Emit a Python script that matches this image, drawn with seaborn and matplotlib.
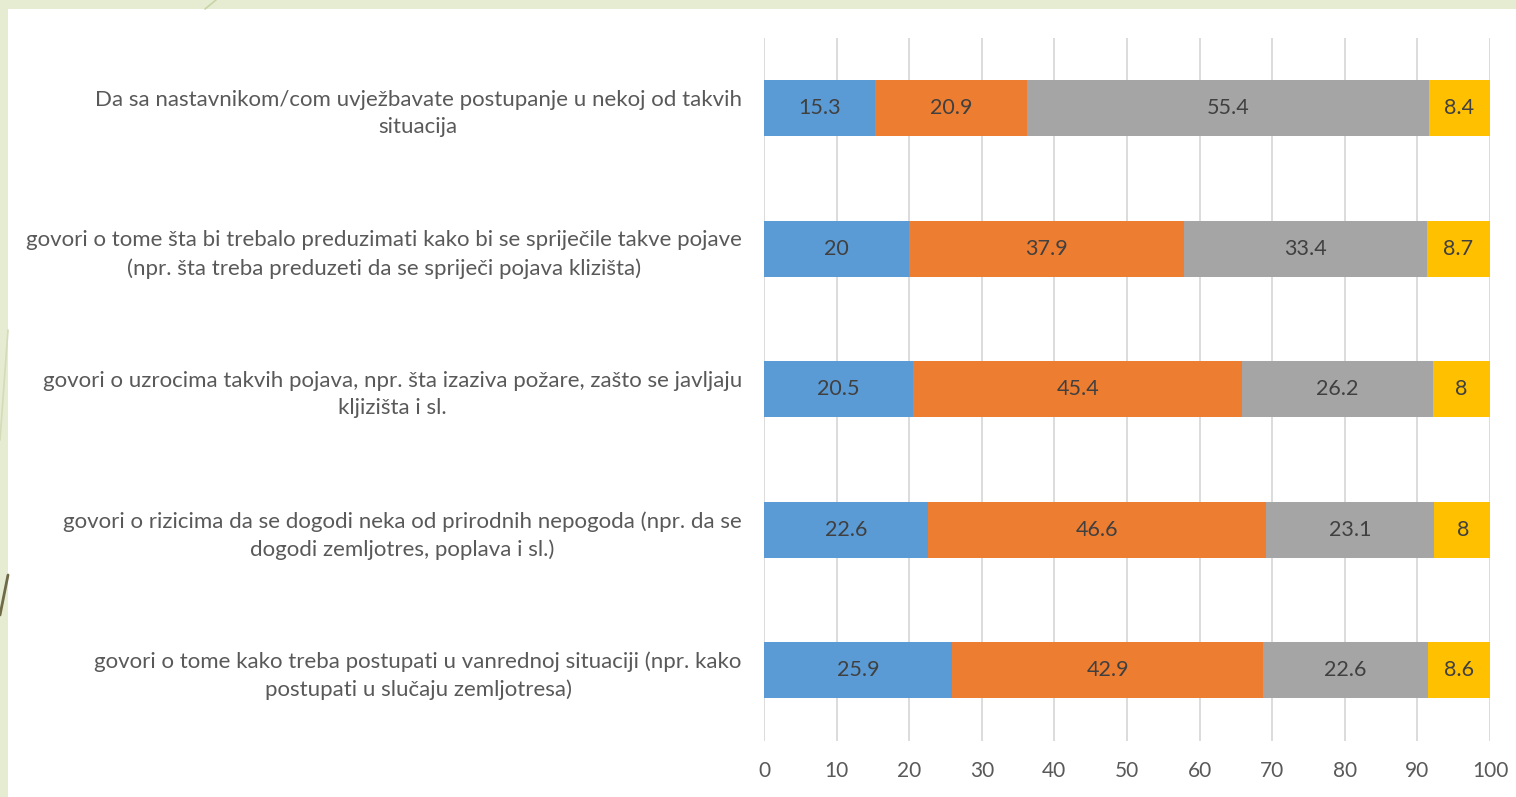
import matplotlib
matplotlib.use("Agg")
import matplotlib.pyplot as plt
import matplotlib.patches as mpatches
from matplotlib.lines import Line2D
import seaborn as sns
import pandas as pd
import numpy as np

categories = [
    "Da sa nastavnikom/com uvježbavate postupanje u nekoj od takvih\nsituacija",
    "govori o tome šta bi trebalo preduzimati kako bi se spriječile takve pojave\n(npr. šta treba preduzeti da se spriječi pojava klizišta)",
    "govori o uzrocima takvih pojava, npr. šta izaziva požare, zašto se javljaju\nkljizišta i sl.",
    "govori o rizicima da se dogodi neka od prirodnih nepogoda (npr. da se\ndogodi zemljotres, poplava i sl.)",
    "govori o tome kako treba postupati u vanrednoj situaciji (npr. kako\npostupati u slučaju zemljotresa)",
]
series1 = [15.3, 20, 20.5, 22.6, 25.9]
series2 = [20.9, 37.9, 45.4, 46.6, 42.9]
series3 = [55.4, 33.4, 26.2, 23.1, 22.6]
series4 = [8.4, 8.7, 8, 8, 8.6]
xticks = [0, 10, 20, 30, 40, 50, 60, 70, 80, 90, 100]

series = [series1, series2, series3, series4]
colors = ["#5B9BD5", "#ED7D31", "#A5A5A5", "#FFC000"]

sns.set_theme(style="white")
plt.rcParams["font.family"] = ["Lato", "DejaVu Sans"]

W, H = 1516, 797
fig = plt.figure(figsize=(W / 100, H / 100), dpi=100)
fig.patch.set_facecolor("#E5ECD2")

# white slide panel
fig.add_artist(mpatches.Rectangle((8 / W, 0), 1 - 8 / W, 1 - 9 / H,
                                  transform=fig.transFigure, facecolor="white",
                                  edgecolor="none", zorder=0))
# decorative lines on slide background
fig.add_artist(Line2D([205 / W, 216 / W], [1 - 9 / H, 1.0], transform=fig.transFigure,
                      color="#C9D3A8", lw=1.2, zorder=1))
fig.add_artist(Line2D([0, 8 / W], [1 - 615 / H, 1 - 575 / H], transform=fig.transFigure,
                      color="#6F6A48", lw=2.0, zorder=1))
fig.add_artist(Line2D([0, 8 / W], [1 - 440 / H, 1 - 330 / H], transform=fig.transFigure,
                      color="#D3DBB8", lw=1.2, zorder=1))

ax = fig.add_axes([764 / W, 1 - 740.5 / H, 726 / W, 702.5 / H])
ax.set_facecolor("none")

cum = np.cumsum(np.array(series), axis=0)
df = pd.DataFrame({"cat": categories})
for i in range(len(series) - 1, -1, -1):
    df["v"] = cum[i]
    sns.barplot(data=df, y="cat", x="v", orient="h", color=colors[i],
                saturation=1, width=0.4, ax=ax, zorder=3, linewidth=0,
                edgecolor="none")

for i, s in enumerate(series):
    for j, v in enumerate(s):
        left = cum[i][j] - v
        ax.text(left + v / 2, j, f"{v:g}", ha="center", va="center",
                fontsize=15.5, color="#404040", zorder=5)

ax.set_xlim(0, 100)
ax.set_ylim(4.5, -0.5)
ax.set_xticks(xticks)
ax.set_xticklabels([str(t) for t in xticks])
ax.xaxis.grid(True, color="#D9D9D9", linewidth=1.3, zorder=0)
ax.set_axisbelow(True)
for sp in ax.spines.values():
    sp.set_visible(False)
ax.tick_params(axis="both", length=0, labelcolor="#595959")
ax.tick_params(axis="y", pad=16, labelsize=16)
ax.tick_params(axis="x", pad=15, labelsize=15)
ax.set_xlabel("")
ax.set_ylabel("")
for lbl in ax.get_yticklabels():
    lbl.set_multialignment("center")
    lbl.set_linespacing(1.45)

fig.savefig("out.png", dpi=100, facecolor=fig.get_facecolor())
